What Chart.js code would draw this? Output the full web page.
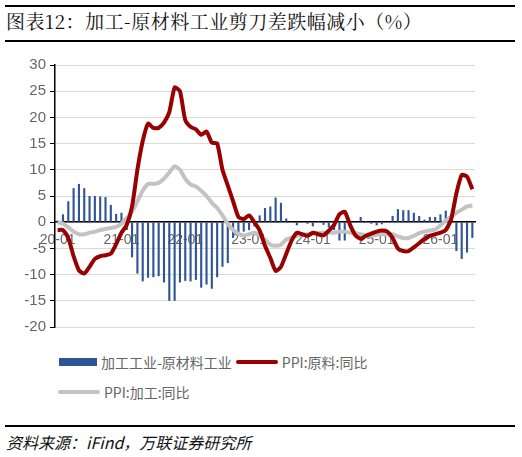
<!DOCTYPE html>
<html><head><meta charset="utf-8">
<script src="https://cdn.jsdelivr.net/npm/chart.js@4/dist/chart.umd.min.js"></script>
<style>
body{margin:0;width:522px;height:457px;background:#fff;position:relative;overflow:hidden;font-family:"Noto Sans CJK SC",sans-serif}
.rule{position:absolute;left:5px;width:510px;background:#000}
#title{position:absolute;left:6px;top:7px;font-family:"Noto Serif CJK SC","Noto Sans CJK SC",serif;font-size:19px;color:#111;letter-spacing:0.5px}
#src{position:absolute;left:6px;top:430px;font-size:16px;font-style:italic;color:#111;font-family:"Noto Sans CJK SC",serif}
#c{position:absolute;left:0;top:50px}
.lg{position:absolute;font-size:14px;color:#666;display:flex;align-items:center}
.sw{display:inline-block;margin-right:4px}
</style></head><body>
<div class="rule" style="top:5px;height:2px"></div>
<div id="title">图表12：加工-原材料工业剪刀差跌幅减小（%）</div>
<div class="rule" style="top:40px;height:2px"></div>
<canvas id="c" width="522" height="290"></canvas>
<div class="lg" style="left:59px;top:352px"><span class="sw" style="width:38px;height:8px;background:#2f5597"></span>加工工业-原材料工业<span class="sw" style="width:42px;height:4px;border-radius:2px;background:#990000;margin-left:4px"></span>PPI:原料:同比</div>
<div class="lg" style="left:58px;top:382px"><span class="sw" style="width:42px;height:4px;border-radius:2px;background:#c3c3c3"></span>PPI:加工:同比</div>
<div class="rule" style="top:425px;height:2px"></div>
<div id="src">资料来源：iFind，万联证券研究所</div>
<script>
const months = [];
for (let y = 20; y <= 26; y++) for (let m = 1; m <= 12; m++) months.push(y + '-' + String(m).padStart(2, '0'));
const labels = months.slice(0, 79);
const spread = [0.3,1.5,4,6.5,7.3,6.5,5,5,4.9,4.8,3.3,1.6,1.8,-1.5,-6.7,-9.8,-11.3,-10.6,-10.5,-10.3,-11.5,-15,-15,-11.5,-11.2,-11.3,-11,-12.5,-11.9,-12.7,-10.5,-8.5,-7.8,-3,-2,-1.8,-1.5,-0.8,1.3,2.7,3,4.7,3.7,0.7,0,-0.6,0,-0.3,-0.8,0.2,-0.5,-1,-1.5,-3.5,-3.5,-1,0,1,0.2,-0.3,-0.6,-0.4,0,1.2,2.5,2.3,2.3,1.8,1.2,0.5,1,1,1.5,2.2,0.5,-5.5,-7,-5.8,-3];
const rawPPI = [-1.5,-1.5,-3,-6.5,-9.2,-9.8,-8.5,-7,-6.5,-6.3,-6,-4.2,-2,-0.5,3,10,15.5,18.8,18,18,19,21,25.7,25,19.5,18.2,17.7,16.7,17.3,15.2,15,10,7,4,1,0.6,1.3,0,-1.6,-4.5,-6.8,-9.3,-8.5,-6,-3.5,-2,-2.3,-2.6,-2,-2.3,-2.5,-1.6,-0.5,1.5,2,-0.5,-2.5,-3.2,-2.6,-2.2,-1.8,-1.6,-1.8,-3,-5,-5.5,-5.5,-4.8,-4,-3.2,-2.6,-2.3,-2,-1.5,0.5,5.5,9,8.7,6.3];
const procPPI = [0,-0.3,-1,-1.8,-2.3,-2.3,-2,-1.8,-1.5,-1.3,-1.1,-0.9,-0.3,0.8,2,4,6,7.3,7.3,7.5,8.3,9.5,10.7,10,8.3,7.2,6.8,6,5,3.7,2.7,1.3,-0.3,-1.5,-2.2,-2.5,-2.3,-2,-2.5,-3.3,-4.3,-4.5,-4.3,-3.3,-2.9,-2.6,-2.4,-2.3,-2.2,-2,-2,-2,-2,-1.8,-1.8,-2,-2.1,-2.3,-2.5,-2.6,-2.4,-2.3,-2.3,-2.3,-2.7,-3,-3,-2.6,-2.1,-1.8,-1.6,-1.4,-0.6,0.3,1,1.8,2.4,3,3.2];
const yTicks = [30,25,20,15,10,5,0,-5,-10,-15,-20];
new Chart(document.getElementById('c'), {
  data: { labels, datasets: [
    { type:'line', data: procPPI, borderColor:'#c3c3c3', borderWidth:4, pointRadius:0, tension:0.2, order:2 },
    { type:'line', data: rawPPI, borderColor:'#990000', borderWidth:4, pointRadius:0, tension:0.2, order:1 },
    { type:'bar', data: spread, backgroundColor:'#2f5597', barPercentage:0.4, categoryPercentage:1, order:3 }
  ]},
  options: {
    responsive:false, animation:false,
    layout:{padding:{left:0,right:47,top:15,bottom:13}},
    plugins:{legend:{display:false},tooltip:{enabled:false}},
    scales:{
      x:{ position:{y:0}, offset:true,
        grid:{display:false, drawTicks:true},
        border:{color:'#000', width:1.5},
        ticks:{autoSkip:false, maxRotation:0, color:'#666', font:{family:'Liberation Sans',size:14}, padding:2,
          callback:(v,i)=> i%12===0 ? labels[i] : ''} },
      y:{ min:-20, max:30, afterFit:s=>{s.width=55;},
        afterBuildTicks:s=>{s.ticks=yTicks.map(v=>({value:v}));},
        grid:{color:'#d9d9d9', lineWidth:1, drawTicks:true, tickColor:'#000', tickLength:5},
        border:{color:'#000', width:1.5},
        ticks:{color:'#666', font:{family:'Liberation Sans',size:15}, padding:4} }
    }
  }
});
</script></body></html>
